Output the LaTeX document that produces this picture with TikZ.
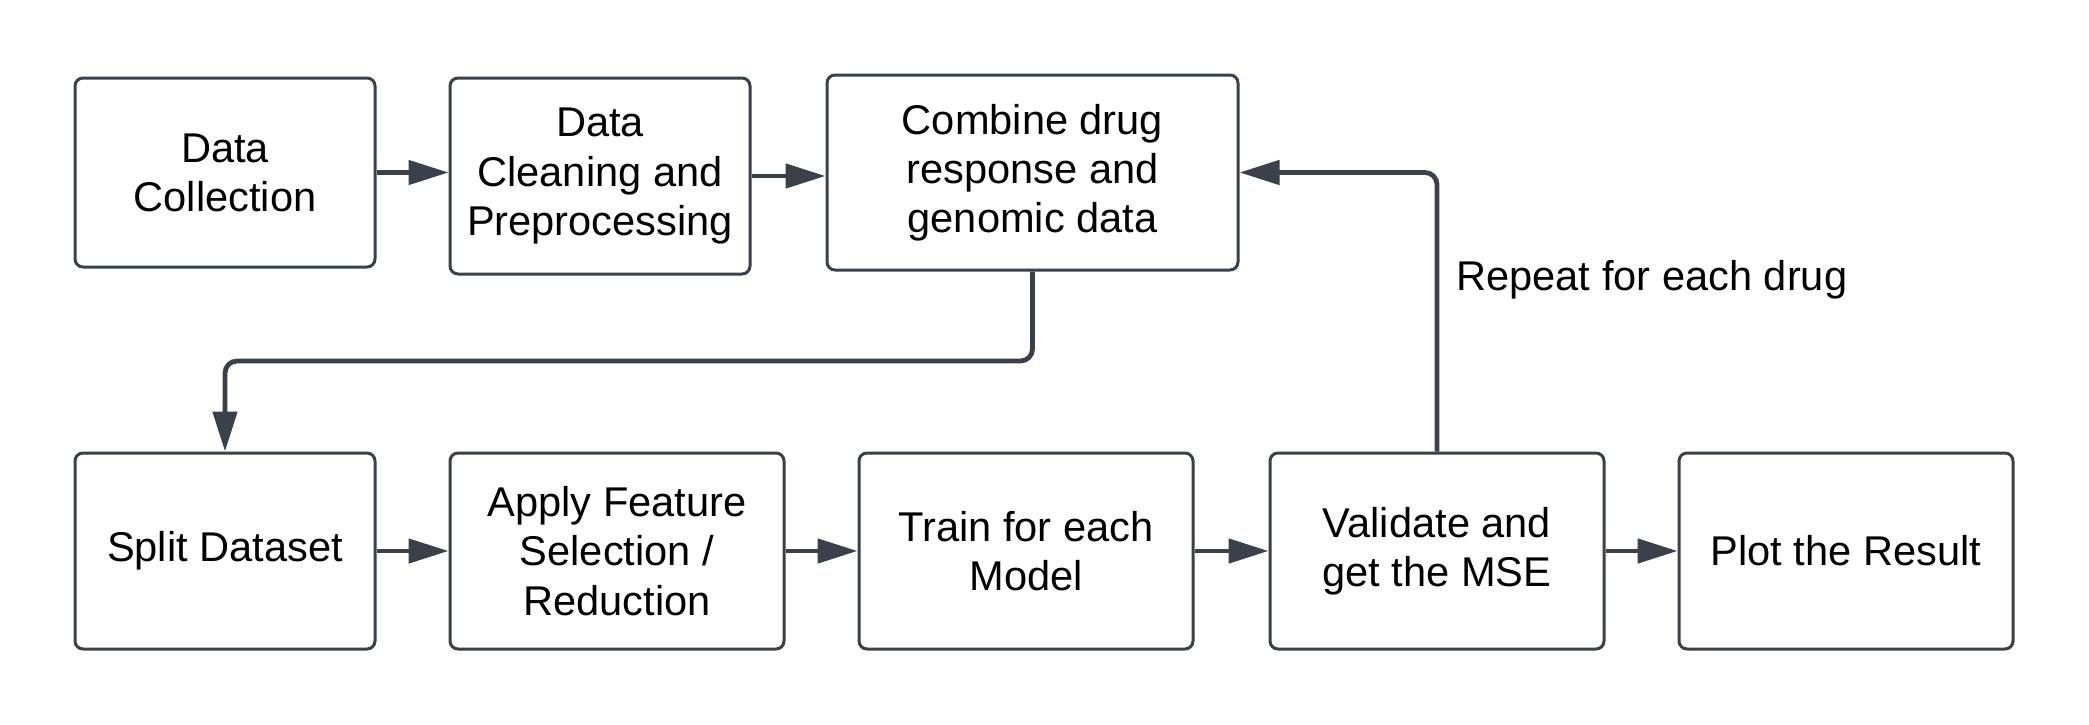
\documentclass[tikz,border=0pt]{standalone}
\usepackage{fontspec}
\setmainfont{Liberation Sans}
\usetikzlibrary{arrows.meta}
\definecolor{lc}{HTML}{3A414A}
\tikzset{
  box/.style={draw=lc, line width=1.5pt, rounded corners=4pt, inner sep=0pt,
    align=center, text=black, font=\fontsize{20.8pt}{24.6pt}\selectfont},
  conn/.style={draw=lc, line width=2.4pt, -{Triangle[length=20pt,width=12pt]}},
  lbl/.style={font=\fontsize{20.8pt}{24.6pt}\selectfont, inner sep=0pt, text=black}
}
\begin{document}
\begin{tikzpicture}[x=0.5pt,y=-0.5pt]
\useasboundingbox (0,0) rectangle (2089,724);
\node[box, minimum width=150pt, minimum height=94.5pt] (b1) at (225,172.5) {Data\\Collection};
\node[box, minimum width=150pt, minimum height=98pt] (b2) at (600,176) {Data\\Cleaning and\\Preprocessing};
\node[box, minimum width=205.5pt, minimum height=97.5pt] (b3) at (1032.5,172.5) {Combine drug\\response and\\genomic data};
\node[box, minimum width=150pt, minimum height=98pt] (b4) at (225,551) {Split Dataset};
\node[box, minimum width=167pt, minimum height=98pt] (b5) at (617,551) {Apply Feature\\Selection /\\Reduction};
\node[box, minimum width=167pt, minimum height=98pt] (b6) at (1026,551) {Train for each\\Model};
\node[box, minimum width=167pt, minimum height=98pt] (b7) at (1437,551) {Validate and\\get the MSE};
\node[box, minimum width=167pt, minimum height=98pt] (b8) at (1846,551) {Plot the Result};
\node[lbl, anchor=west] (rep) at (1456,280) {Repeat for each drug};
\draw[conn] (b1.east) -- (b2.west |- b1.east);
\draw[conn] (b2.east) -- (b3.west |- b2.east);
\draw[conn] (b4) -- (b5);
\draw[conn] (b5) -- (b6);
\draw[conn] (b6) -- (b7);
\draw[conn] (b7) -- (b8);
\draw[conn, rounded corners=6pt] (b3.south) -- (b3.south |- 0,361) -| (b4.north);
\draw[conn, rounded corners=6pt] (b7.north) |- (b3.east);
\end{tikzpicture}
\end{document}
